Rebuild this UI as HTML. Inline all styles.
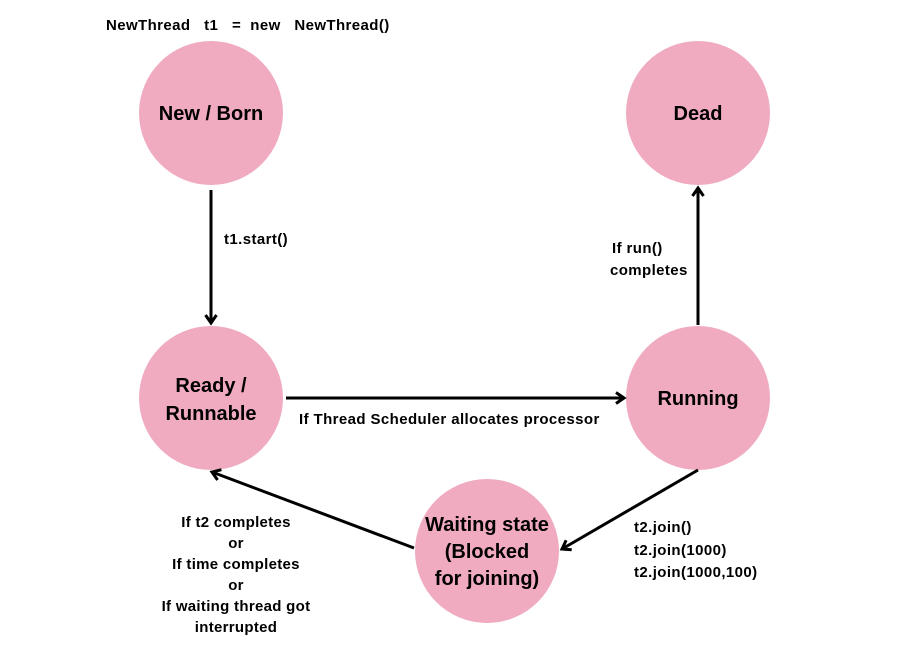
<!DOCTYPE html>
<html><head><style>
html,body{margin:0;padding:0;background:#fff;}
svg{display:block}
text{font-family:"Liberation Sans",sans-serif;font-weight:bold;fill:#000}
</style></head><body>
<svg width="900" height="650" viewBox="0 0 900 650">
<defs>
<marker id="a" markerWidth="14" markerHeight="14" refX="10" refY="7" orient="auto" markerUnits="userSpaceOnUse">
<path d="M2,1.5 L10,7 L2,12.5" fill="none" stroke="#000" stroke-width="3"/>
</marker>
</defs>
<g fill="#f0abc1">
<circle cx="211" cy="113" r="72"/>
<circle cx="698" cy="113" r="72"/>
<circle cx="211" cy="398" r="72"/>
<circle cx="698" cy="398" r="72"/>
<circle cx="487" cy="551" r="72"/>
</g>
<g stroke="#000" stroke-width="3" fill="none">
<line x1="211" y1="190" x2="211" y2="323" marker-end="url(#a)"/>
<line x1="286" y1="398" x2="624" y2="398" marker-end="url(#a)"/>
<line x1="698" y1="325" x2="698" y2="188" marker-end="url(#a)"/>
<line x1="698" y1="470" x2="562" y2="549" marker-end="url(#a)"/>
<line x1="414" y1="548" x2="212" y2="472" marker-end="url(#a)"/>
</g>
<g font-size="20" text-anchor="middle">
<text x="211" y="120">New / Born</text>
<text x="698" y="120">Dead</text>
<text x="211" y="392">Ready /</text>
<text x="211" y="420">Runnable</text>
<text x="698" y="405">Running</text>
<text x="487" y="531">Waiting state</text>
<text x="487" y="558">(Blocked</text>
<text x="487" y="585">for joining)</text>
</g>
<g font-size="15" letter-spacing="0.4">
<text x="106" y="30">NewThread&#160;&#160; t1&#160;&#160; =&#160; new&#160;&#160; NewThread()</text>
<text x="224" y="244">t1.start()</text>
<text x="612" y="253">If run()</text>
<text x="610" y="275">completes</text>
<text x="299" y="424">If Thread Scheduler allocates processor</text>
<text x="634" y="532">t2.join()</text>
<text x="634" y="555">t2.join(1000)</text>
<text x="634" y="577">t2.join(1000,100)</text>
</g>
<g font-size="15" letter-spacing="0.3" text-anchor="middle">
<text x="236" y="527">If t2 completes</text>
<text x="236" y="548">or</text>
<text x="236" y="569">If time completes</text>
<text x="236" y="590">or</text>
<text x="236" y="611">If waiting thread got</text>
<text x="236" y="632">interrupted</text>
</g>
</svg>
</body></html>
